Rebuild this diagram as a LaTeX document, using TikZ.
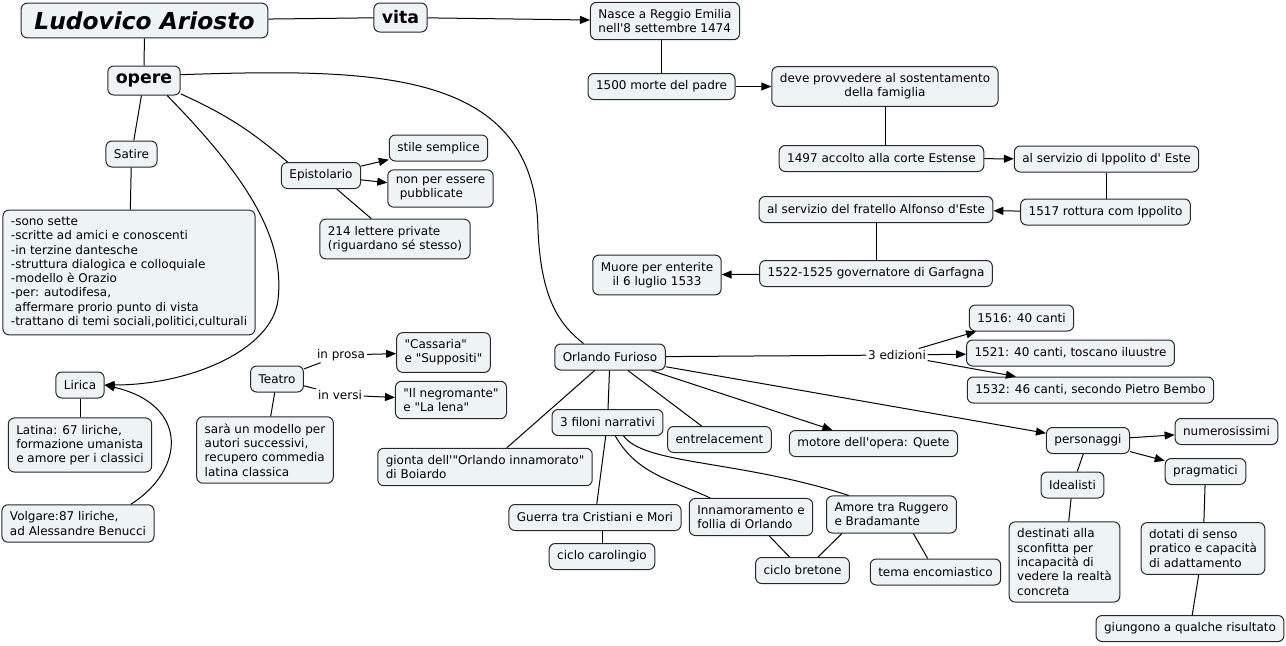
\documentclass[tikz,border=0pt]{standalone}
\usepackage{fontspec}
\newfontfamily\mapfont{DejaVu Sans}
\usepackage{tikz}
\usetikzlibrary{arrows.meta}
\definecolor{boxfill}{RGB}{238,243,246}
\definecolor{boxline}{RGB}{40,40,40}

\begin{document}
\begin{tikzpicture}[x=0.75pt,y=-0.75pt,>={Triangle[length=7.5pt,width=6pt]},
                    line width=0.75pt,
                    concept node/.style={draw=boxline,fill=boxfill,rounded corners=4.5pt,
                      font=\mapfont\fontsize{9}{10.7}\selectfont,inner xsep=6pt,
                      inner ysep=5.2pt,minimum height=19.5pt,align=left},
                    title node/.style={concept node,minimum height=21.75pt,
                      font=\mapfont\bfseries\fontsize{13}{15}\selectfont},
                    big title/.style={concept node,minimum width=185pt,minimum height=26pt,
                      font=\mapfont\bfseries\itshape\fontsize{17.5}{20}\selectfont},
                    link label/.style={font=\mapfont\fontsize{9}{10.7}\selectfont,inner sep=1pt}]

  \useasboundingbox (0,0) rectangle (1286,646);

  % vita
  \node[big title] (1) at (144.5,20.5) {Ludovico Ariosto};
  \node[title node] (2) at (400.5,17.5) {vita};
  \node[title node] (3) at (144,80.5) {opere};
  \node[concept node] (4) at (665,21) {Nasce a Reggio Emilia\\nell'8 settembre 1474};
  \node[concept node] (5) at (661.5,86.5) {1500 morte del padre};
  \node[concept node,align=center] (6) at (885,86.5) {deve provvedere al sostentamento\\della famiglia};
  \node[concept node] (7) at (881.5,158.5) {1497 accolto alla corte Estense};
  \node[concept node] (8) at (1106.5,159) {al servizio di Ippolito d' Este};
  \node[concept node] (9) at (1105.5,212) {1517 rottura com Ippolito};
  \node[concept node] (10) at (876,209.5) {al servizio del fratello Alfonso d'Este};
  \node[concept node] (11) at (876,273.5) {1522-1525 governatore di Garfagna};
  \node[concept node,align=center] (12) at (657,275) {Muore per enterite\\il 6 luglio 1533};

  % opere minori
  \node[concept node] (13) at (131.5,154) {Satire};
  \node[concept node] (14) at (129,272.5) {-sono sette\\-scritte ad amici e conoscenti\\-in terzine dantesche\\-struttura dialogica e colloquiale\\-modello è Orazio\\-per: autodifesa,\\\hspace*{3pt}affermare prorio punto di vista\\-trattano di temi sociali,politici,culturali};
  \node[concept node] (15) at (321,175.5) {Epistolario};
  \node[concept node] (16) at (438.5,148) {stile semplice};
  \node[concept node] (17) at (440.5,188.5) {non per essere\\\hspace*{3pt}pubblicate};
  \node[concept node] (18) at (395,239) {214 lettere private\\(riguardano sé stesso)};
  \node[concept node] (19) at (80,385) {Lirica};
  \node[concept node] (20) at (80,445) {Latina: 67 liriche,\\formazione umanista\\e amore per i classici};
  \node[concept node] (21) at (78,523.5) {Volgare:87 liriche,\\ad Alessandre Benucci};
  \node[concept node] (22) at (277,379) {Teatro};
  \node[link label] (23) at (341,355) {in prosa};
  \node[link label] (24) at (340,395) {in versi};
  \node[concept node] (25) at (443.5,352.5) {"Cassaria"\\e "Suppositi"};
  \node[concept node] (26) at (451,400) {"Il negromante"\\e "La lena"};
  \node[concept node] (27) at (265,450) {sarà un modello per\\autori successivi,\\recupero commedia\\latina classica};

  % Orlando Furioso
  \node[concept node] (28) at (610,357) {Orlando Furioso};
  \node[link label] (29) at (897,355) {3 edizioni};
  \node[concept node] (30) at (1021.5,318) {1516: 40 canti};
  \node[concept node] (31) at (1070.5,353) {1521: 40 canti, toscano iluustre};
  \node[concept node] (32) at (1090.5,390) {1532: 46 canti, secondo Pietro Bembo};
  \node[concept node] (33) at (607.5,422.5) {3 filoni narrativi};
  \node[concept node] (34) at (719.5,439.5) {entrelacement};
  \node[concept node] (35) at (873.5,443.5) {motore dell'opera: Quete};
  \node[concept node] (36) at (485,467) {gionta dell'"Orlando innamorato"\\di Boiardo};
  \node[concept node] (37) at (1088,440.5) {personaggi};
  \node[concept node] (38) at (1226.5,431.5) {numerosissimi};
  \node[concept node] (39) at (1205.5,471.5) {pragmatici};
  \node[concept node] (40) at (1072.5,485) {Idealisti};
  \node[concept node] (41) at (1064.5,562) {destinati alla\\sconfitta per\\incapacità di\\vedere la realtà\\concreta};
  \node[concept node] (42) at (1203,548.5) {dotati di senso\\pratico e capacità\\di adattamento};
  \node[concept node] (43) at (1190,628.5) {giungono a qualche risultato};
  \node[concept node] (44) at (595,517.5) {Guerra tra Cristiani e Mori};
  \node[concept node] (45) at (602,556.5) {ciclo carolingio};
  \node[concept node] (46) at (751,517) {Innamoramento e\\follia di Orlando};
  \node[concept node] (47) at (891.5,514.5) {Amore tra Ruggero\\e Bradamante};
  \node[concept node] (48) at (802.5,570.5) {ciclo bretone};
  \node[concept node] (49) at (935.5,572) {tema encomiastico};

  \path[draw=black]
    (1) edge (2)
        edge (3)
    (2) edge[->] (4)
    (4.south -| 5.north) edge (5)
    (5) edge[->] (6)
    (6.south) edge (6.south |- 7.north)
    (7) edge[->] (8)
    (8) edge (8.south |- 9.north)
    (9) edge[->] (10)
    (10) edge (11)
    (11) edge[->] (12)
    (3) edge (13)
    (13) edge (14)
    (3.-20) edge[bend left=8] (15.158)
    (15) edge[->] (16)
         edge[->] (17)
         edge (18)
    (19) edge (20)
    (22) edge (23)
         edge (24)
         edge (27)
    (23) edge[->] (25)
    (24) edge[->] (26)
    (28) edge (29)
         edge (33)
         edge (34)
         edge (36)
         edge[->] (35)
         edge[->] (37)
    (29) edge[->] (30)
         edge[->] (31)
         edge[->] (32)
    (33) edge (44)
         edge[out=-60,in=155] (46)
    (44.south -| 45.north) edge (45)
    (46) edge (48)
    (47.201) edge (48.41)
    (47.-41) edge (49.120)
    (37) edge[->] (38)
         edge[->] (39)
         edge (40)
    (40) edge (41)
    (39) edge (42)
    (42) edge (43);

  % curved links
  \draw (3.9) .. controls (380,68) and (535,70) .. (538,230)
              .. controls (541,300) and (560,325) .. (28.153);
  \draw[->] (3.-33) .. controls (250,180) and (285,240) .. (278,300)
                    .. controls (272,350) and (190,385) .. (19.east);
  \draw[->] (21.20) .. controls (185,470) and (190,405) .. (19.east);
  \draw (33.-40) .. controls (645,465) and (740,460) .. (47.156);

\end{tikzpicture}
\end{document}
